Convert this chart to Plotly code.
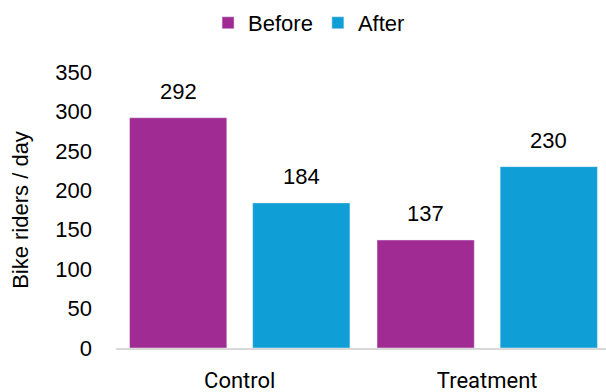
import plotly.graph_objects as go

categories = ["Control", "Treatment"]
before = [292, 137]
after = [184, 230]
y_ticks = [0, 50, 100, 150, 200, 250, 300, 350]

PURPLE = "#A02B93"
BLUE = "#0F9ED5"
SANS = "Liberation Sans, Arial, sans-serif"

fig = go.Figure()
fig.add_trace(go.Bar(name="Before", x=categories, y=before, marker_color=PURPLE))
fig.add_trace(go.Bar(name="After", x=categories, y=after, marker_color=BLUE))

# value labels floating above each bar (grouped bars sit ±61.5 px from the category centre)
for values, shift in ((before, -61.5), (after, 61.5)):
    for cat, v in zip(categories, values):
        fig.add_annotation(x=cat, y=v, text=str(v), showarrow=False,
                           xshift=shift, yshift=12, yanchor="bottom",
                           font=dict(family=SANS, size=22, color="#000"))

fig.update_layout(
    width=606, height=392,
    margin=dict(l=116, r=0, t=72, b=44),
    paper_bgcolor="white", plot_bgcolor="white",
    barmode="group", bargap=0.005, bargroupgap=0.21,
    legend=dict(orientation="h", xref="container", x=0.51, xanchor="center",
                yref="container", y=0.995, yanchor="top",
                font=dict(family=SANS, size=22, color="#000"),
                itemwidth=30, traceorder="normal"),
    showlegend=True,
)
fig.update_xaxes(showline=True, linecolor="#D9D9D9", linewidth=1.5, ticks="",
                 tickfont=dict(family="Roboto, Liberation Sans, sans-serif", size=22, color="#000"),
                 ticklabelstandoff=12,
                 range=[-0.5, 1.48])
fig.update_yaxes(range=[0, 350], tickvals=y_ticks, showgrid=False, zeroline=False,
                 tickfont=dict(family=SANS, size=22, color="#000"),
                 ticklabelstandoff=23,
                 title=dict(text="Bike riders / day", standoff=20,
                            font=dict(family=SANS, size=22, color="#000")))

fig.write_html("out.html")
